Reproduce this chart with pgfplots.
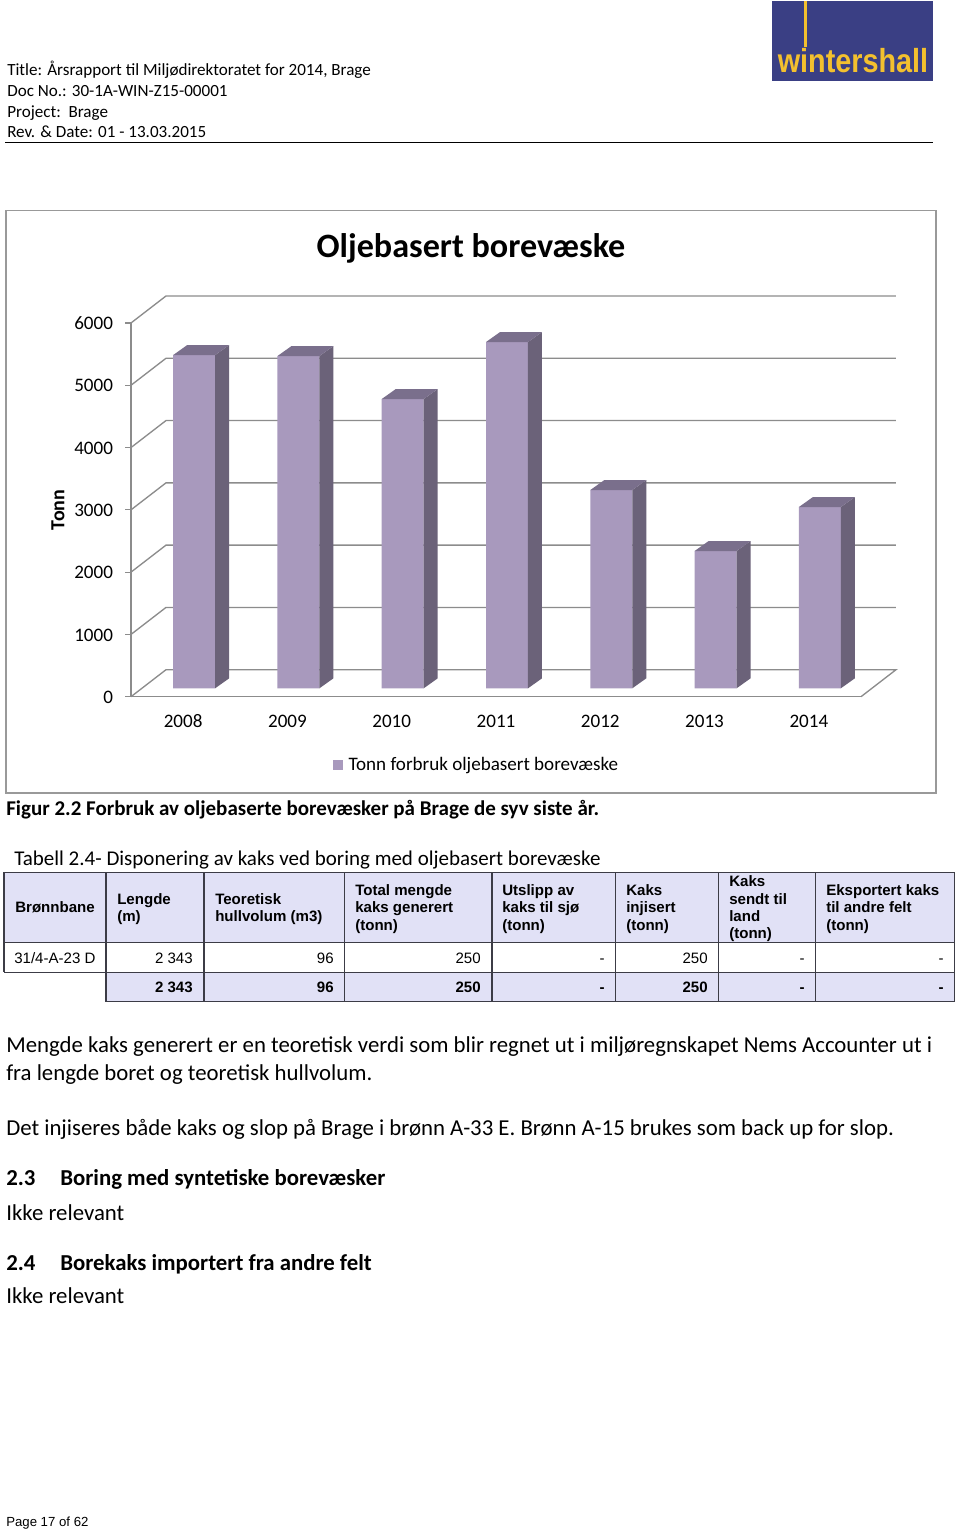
\documentclass[border=0pt]{standalone}
\usepackage{fontspec}
\setmainfont{Carlito}
\newfontfamily\ar{Liberation Sans}
\usepackage{pgfplots}
\pgfplotsset{compat=1.18}
\definecolor{gridC}{HTML}{8C8C8C}
\definecolor{frontC}{HTML}{A899BD}
\definecolor{sideC}{HTML}{6B6279}
\definecolor{topC}{HTML}{7A6F8C}
\definecolor{cellC}{HTML}{E1E1F6}
\definecolor{logoB}{HTML}{3A3F84}
\definecolor{logoY}{HTML}{F3C02E}
\definecolor{tabline}{HTML}{3C3C46}
\newcommand\fs[1]{\fontsize{#1}{#1}\selectfont}
\newcommand\TL[3]{\node[anchor=base west,inner sep=0pt] at (#1,#2) {#3};}
\newcommand\TR[3]{\node[anchor=base east,inner sep=0pt] at (#1,#2) {#3};}
\tikzset{pg/.style={x=0.75pt,y=-0.75pt}}
\begin{document}
\begin{tikzpicture}
\begin{scope}[pg]
\path[use as bounding box] (0,0) rectangle (960,1532);
% header
\fill[logoB] (772,1) rectangle (933,81);
\fill[logoY] (804,1) rectangle (807,47);
\node[anchor=base,inner sep=0pt,text=logoY] at (853,72) {\scalebox{0.864}[1]{\ar\bfseries\fs{25pt}wintershall}};
\TL{7}{75}{\fs{12.8pt}Title: Årsrapport til Miljødirektoratet for 2014, Brage}
\TL{7}{96}{\fs{12.8pt}Doc No.: 30-1A-WIN-Z15-00001}
\TL{7}{117}{\fs{12.8pt}Project:\ \ Brage}
\TL{7}{137}{\fs{12.8pt}Rev. \& Date: 01 - 13.03.2015}
\draw[black,line width=0.6pt] (5,142) -- (933,142);
% chart frame
\draw[gray!80,line width=1.1pt,fill=white] (6,210.5) rectangle (936,793);
\end{scope}
% main axis: front plane, walls and tick labels
\begin{axis}[
  at={(98.25pt,-522.525pt)},anchor=south west,scale only axis,
  width=547.5pt,height=280.3pt,
  xmin=-0.5,xmax=6.5,ymin=0,ymax=6000,clip=false,
  axis lines*=left,axis line style={-,gridC,line width=1pt},
  xtick={0,1,2,3,4,5,6},xticklabels={2008,2009,2010,2011,2012,2013,2014},
  ytick={0,1000,2000,3000,4000,5000,6000},
  /pgf/number format/1000 sep={},
  /pgf/number format/assume math mode=true,
  ticklabel style={font=\fs{14.3pt}},
  xtick style={draw=none},
  ytick style={gridC,line width=0.8pt},
  tick align=outside,major tick length=4.5pt,
  xticklabel style={yshift=-5.3pt,text height=9.5pt,text depth=0pt},
  yticklabel style={xshift=-5.5pt,yshift=-0.4pt},
  ylabel={\bfseries Tonn},ylabel style={font=\fs{15pt},at={(axis description cs:-0.1,0.5)},anchor=center,rotate=0},
  title={\bfseries Oljebasert borevæske},
  title style={font=\fs{25.6pt},at={(axis description cs:0.4658,1.177)},anchor=center},
]
\addplot[gridC,line width=1pt] coordinates {(-0.5,0) (-0.1644,433.4) (6.8356,433.4) (6.5,0)};
\addplot[gridC,line width=1pt] coordinates {(-0.5,1000) (-0.1644,1433.4) (6.8356,1433.4)};
\addplot[gridC,line width=1pt] coordinates {(-0.5,2000) (-0.1644,2433.4) (6.8356,2433.4)};
\addplot[gridC,line width=1pt] coordinates {(-0.5,3000) (-0.1644,3433.4) (6.8356,3433.4)};
\addplot[gridC,line width=1pt] coordinates {(-0.5,4000) (-0.1644,4433.4) (6.8356,4433.4)};
\addplot[gridC,line width=1pt] coordinates {(-0.5,5000) (-0.1644,5433.4) (6.8356,5433.4)};
\addplot[gridC,line width=1pt] coordinates {(-0.5,6000) (-0.1644,6433.4) (6.8356,6433.4)};
\end{axis}
% bars
\begin{axis}[
  at={(106.5pt,-516.225pt)},anchor=south west,scale only axis,
  width=547.5pt,height=280.3pt,
  xmin=-0.5,xmax=6.5,ymin=0,ymax=6000,clip=false,hide axis,
  legend image code/.code={\fill[frontC] (0pt,-4pt) rectangle (8pt,4pt);\path (10pt,0pt);},
  legend style={at={(0.4585,-0.2055)},anchor=center,draw=none,fill=none,font=\fs{14.3pt},inner sep=0pt,
    legend cell align=left},
]
\addplot[ybar,bar width=31.5pt,bar shift=0pt,fill=frontC,draw=none]
  coordinates {(0,5350) (1,5334) (2,4644) (3,5559) (4,3183) (5,2204) (6,2910)};
\addlegendentry{Tonn forbruk oljebasert borevæske}
% side faces
\addplot[fill=sideC,draw=none,forget plot] coordinates {(0.2013,0) (0.3355,160) (0.3355,5510) (0.2013,5350)} --cycle;
\addplot[fill=sideC,draw=none,forget plot] coordinates {(1.2013,0) (1.3355,160) (1.3355,5494) (1.2013,5334)} --cycle;
\addplot[fill=sideC,draw=none,forget plot] coordinates {(2.2013,0) (2.3355,160) (2.3355,4804) (2.2013,4644)} --cycle;
\addplot[fill=sideC,draw=none,forget plot] coordinates {(3.2013,0) (3.3355,160) (3.3355,5719) (3.2013,5559)} --cycle;
\addplot[fill=sideC,draw=none,forget plot] coordinates {(4.2013,0) (4.3355,160) (4.3355,3343) (4.2013,3183)} --cycle;
\addplot[fill=sideC,draw=none,forget plot] coordinates {(5.2013,0) (5.3355,160) (5.3355,2364) (5.2013,2204)} --cycle;
\addplot[fill=sideC,draw=none,forget plot] coordinates {(6.2013,0) (6.3355,160) (6.3355,3070) (6.2013,2910)} --cycle;
% top faces
\addplot[fill=topC,draw=none,forget plot] coordinates {(-0.2013,5350) (-0.0671,5510) (0.3355,5510) (0.2013,5350)} --cycle;
\addplot[fill=topC,draw=none,forget plot] coordinates {(0.7987,5334) (0.9329,5494) (1.3355,5494) (1.2013,5334)} --cycle;
\addplot[fill=topC,draw=none,forget plot] coordinates {(1.7987,4644) (1.9329,4804) (2.3355,4804) (2.2013,4644)} --cycle;
\addplot[fill=topC,draw=none,forget plot] coordinates {(2.7987,5559) (2.9329,5719) (3.3355,5719) (3.2013,5559)} --cycle;
\addplot[fill=topC,draw=none,forget plot] coordinates {(3.7987,3183) (3.9329,3343) (4.3355,3343) (4.2013,3183)} --cycle;
\addplot[fill=topC,draw=none,forget plot] coordinates {(4.7987,2204) (4.9329,2364) (5.3355,2364) (5.2013,2204)} --cycle;
\addplot[fill=topC,draw=none,forget plot] coordinates {(5.7987,2910) (5.9329,3070) (6.3355,3070) (6.2013,2910)} --cycle;
\end{axis}
\begin{scope}[pg]
% captions
\TL{6}{815}{\fs{15.75pt}\bfseries Figur 2.2 Forbruk av oljebaserte borevæsker på Brage de syv siste år.}
\TL{14}{865}{\fs{15.75pt}Tabell 2.4- Disponering av kaks ved boring med oljebasert borevæske}
% table
\fill[cellC] (4,872.3) rectangle (954.3,942.7);
\fill[cellC] (106,972.3) rectangle (954.3,1001.7);
\begin{scope}[draw=tabline,line width=0.9pt]
\draw (4,872.3) -- (954.3,872.3);
\draw (4,942.7) -- (954.3,942.7);
\draw (4,972.3) -- (954.3,972.3);
\draw (106,1001.7) -- (954.3,1001.7);
\draw (4,872.3) -- (4,972.3);
\foreach \x in {106,204,344.5,492,615.7,718.7,815.7,954.3} \draw (\x,872.3) -- (\x,1001.7);
\end{scope}
\begin{scope}[every node/.append style={font=\ar\fs{11.3pt}}]
\TL{15}{912.7}{\bfseries Brønnbane}
\TL{117}{904}{\bfseries Lengde}\TL{117}{921}{\bfseries (m)}
\TL{215}{904}{\bfseries Teoretisk}\TL{215}{921}{\bfseries hullvolum (m3)}
\TL{355}{895}{\bfseries Total mengde}\TL{355}{912.5}{\bfseries kaks generert}\TL{355}{930}{\bfseries (tonn)}
\TL{502}{895}{\bfseries Utslipp av}\TL{502}{912.5}{\bfseries kaks til sjø}\TL{502}{930}{\bfseries (tonn)}
\TL{626}{895}{\bfseries Kaks}\TL{626}{912.5}{\bfseries injisert}\TL{626}{930}{\bfseries (tonn)}
\TL{729}{886.7}{\bfseries Kaks}\TL{729}{904}{\bfseries sendt til}\TL{729}{921}{\bfseries land}\TL{729}{938.5}{\bfseries (tonn)}
\TL{826}{895}{\bfseries Eksportert kaks}\TL{826}{912.5}{\bfseries til andre felt}\TL{826}{930}{\bfseries (tonn)}
\TL{14}{963}{31/4-A-23 D}
\TR{193}{963}{2 343}\TR{334}{963}{96}\TR{481}{963}{250}\TR{605}{963}{-}\TR{708}{963}{250}\TR{805}{963}{-}\TR{944}{963}{-}
\TR{193}{992.7}{\bfseries 2 343}\TR{334}{992.7}{\bfseries 96}\TR{481}{992.7}{\bfseries 250}\TR{605}{992.7}{\bfseries -}\TR{708}{992.7}{\bfseries 250}\TR{805}{992.7}{\bfseries -}\TR{944}{992.7}{\bfseries -}
\end{scope}
% body
\begin{scope}[every node/.append style={font=\fs{17.1pt}}]
\TL{6}{1052}{Mengde kaks generert er en teoretisk verdi som blir regnet ut i miljøregnskapet Nems Accounter ut i}
\TL{6}{1080}{fra lengde boret og teoretisk hullvolum.}
\TL{6}{1135}{Det injiseres både kaks og slop på Brage i brønn A-33 E. Brønn A-15 brukes som back up for slop.}
\TL{6}{1185}{\bfseries 2.3}\TL{60}{1185}{\bfseries Boring med syntetiske borevæsker}
\TL{6}{1220}{Ikke relevant}
\TL{6}{1270}{\bfseries 2.4}\TL{60}{1270}{\bfseries Borekaks importert fra andre felt}
\TL{6}{1303}{Ikke relevant}
\end{scope}
\TL{6}{1526}{\ar\fs{9.9pt}Page 17 of 62}
\end{scope}
\end{tikzpicture}
\end{document}
